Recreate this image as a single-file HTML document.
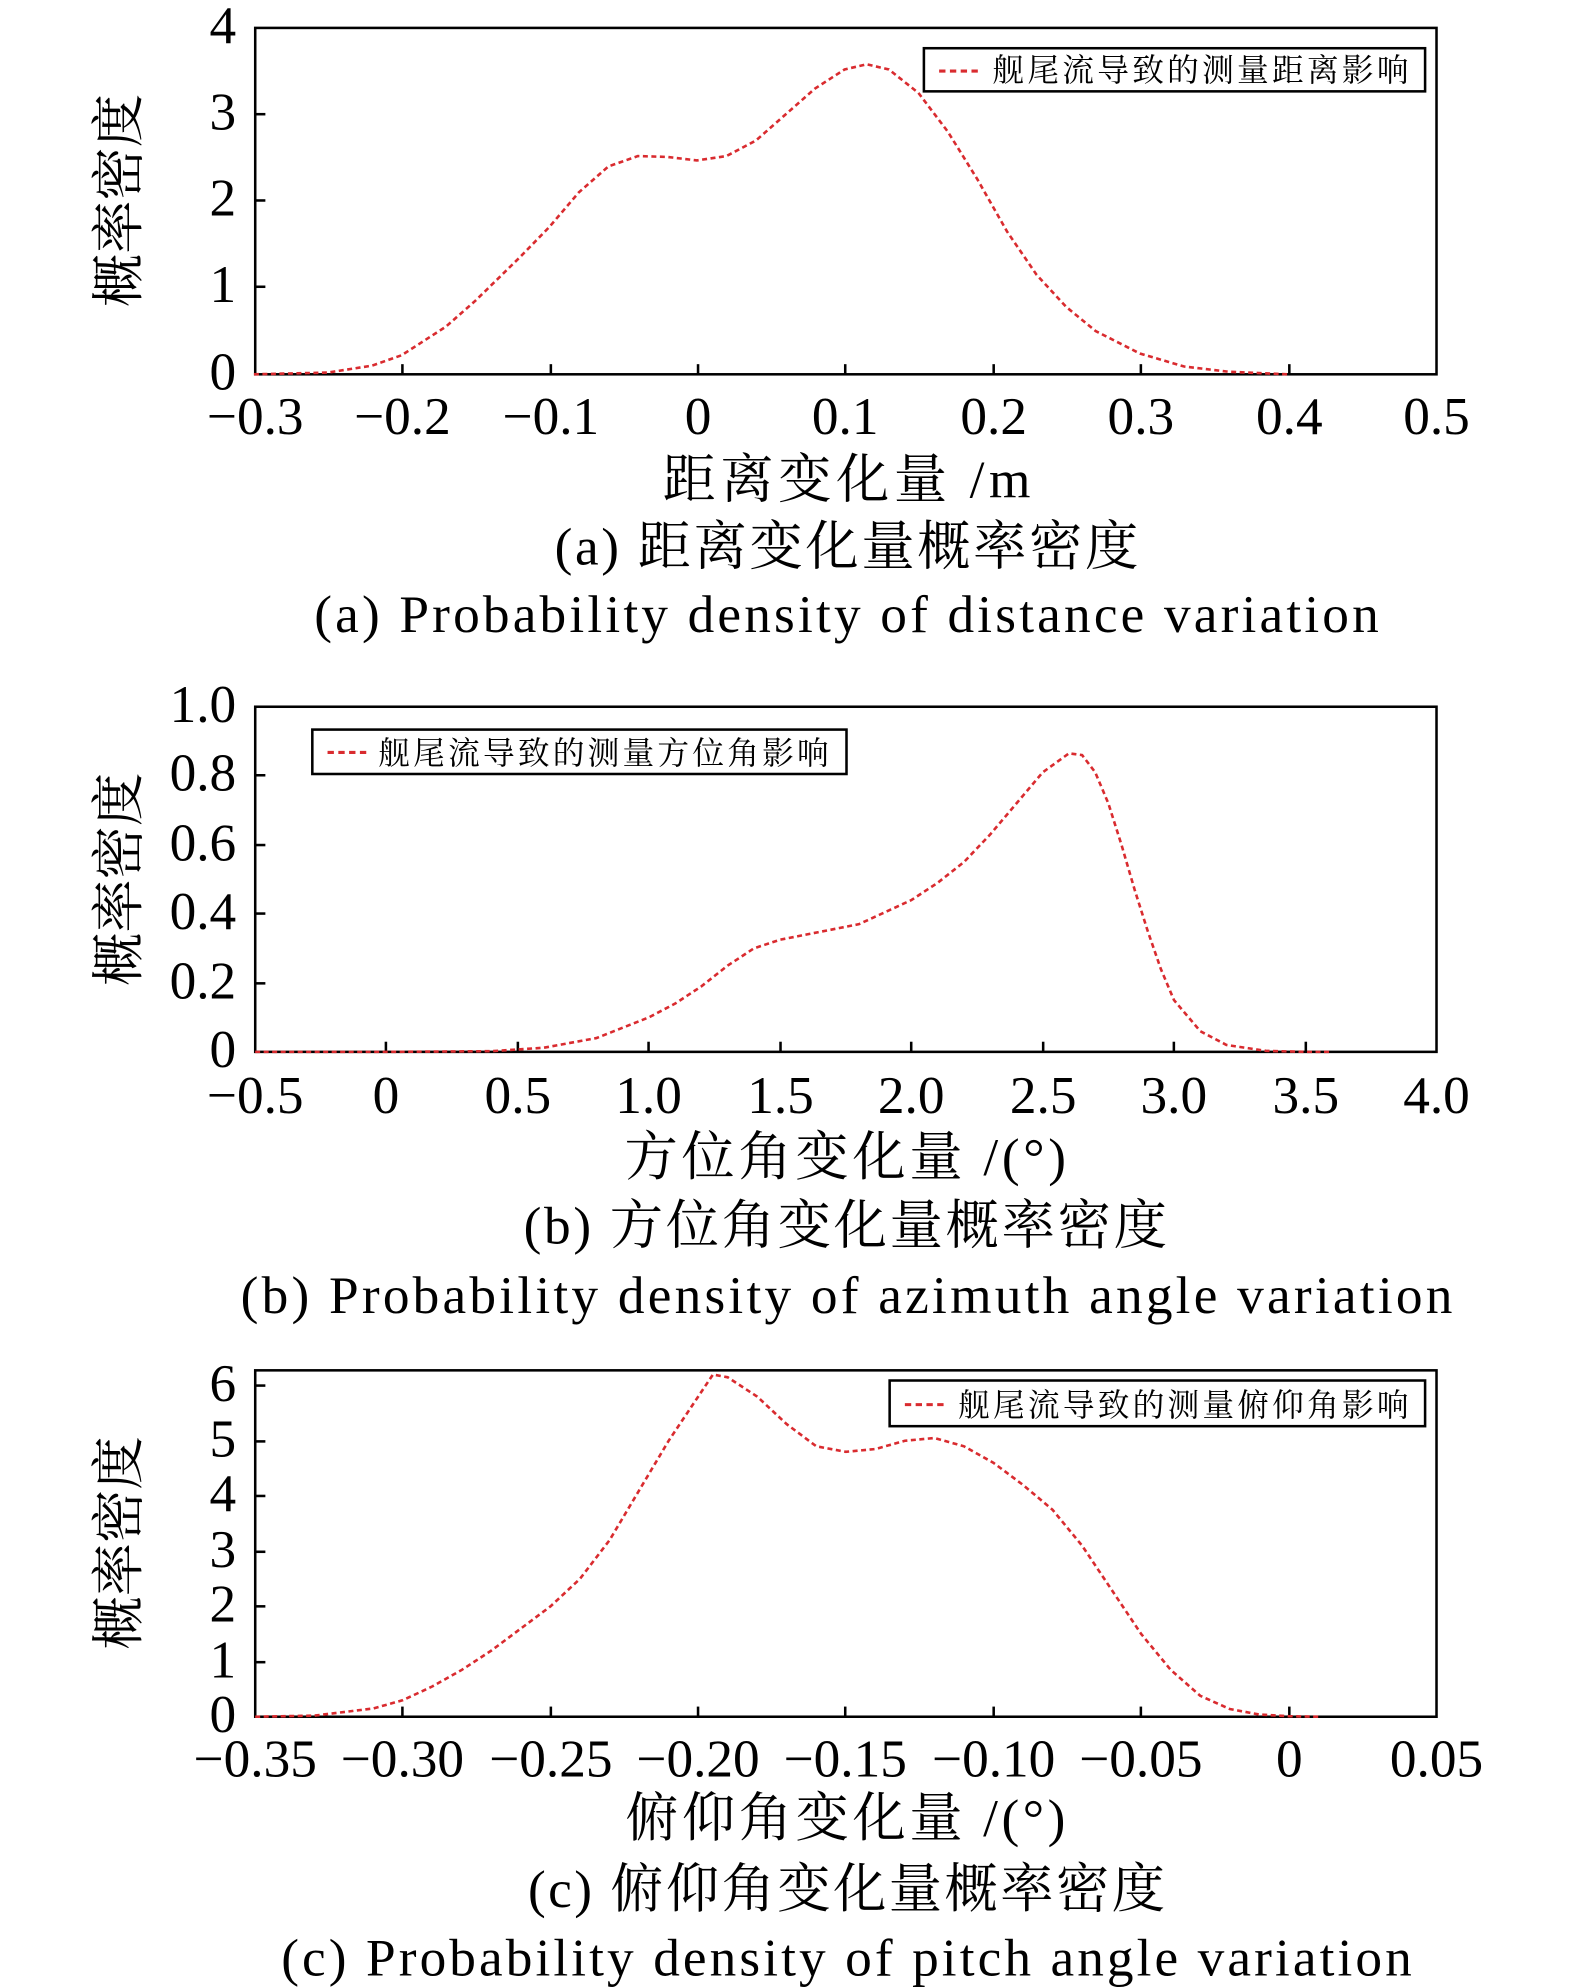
<!DOCTYPE html>
<html><head><meta charset="utf-8"><style>
html,body{margin:0;padding:0;background:#fff;}
svg{display:block;}
text{font-family:"Liberation Serif","Noto Serif CJK SC",serif;fill:#000;}
.t{font-size:42px;}
.c{font-size:42px;}
.lg{font-size:25px;font-family:"Liberation Serif","Noto Serif CJK SC",serif;}
.curve{fill:none;stroke:#d92b2f;stroke-width:2.6;stroke-dasharray:5,3.5;vector-effect:non-scaling-stroke;}
.ax{fill:none;stroke:#000;stroke-width:2;}
</style></head><body>
<svg width="1575" height="1987" viewBox="0 0 1241 1566" xmlns="http://www.w3.org/2000/svg">
<!-- Plot A -->
<rect class="ax" x="201" y="22" width="931" height="273"/>
<g stroke="#000" stroke-width="2">
<line x1="317" y1="295" x2="317" y2="287"/><line x1="434" y1="295" x2="434" y2="287"/><line x1="550" y1="295" x2="550" y2="287"/><line x1="666" y1="295" x2="666" y2="287"/><line x1="783" y1="295" x2="783" y2="287"/><line x1="899" y1="295" x2="899" y2="287"/><line x1="1016" y1="295" x2="1016" y2="287"/>
<line x1="201" y1="226" x2="209" y2="226"/><line x1="201" y1="158" x2="209" y2="158"/><line x1="201" y1="90" x2="209" y2="90"/>
</g>
<g class="t" text-anchor="end"><text x="186" y="307">0</text><text x="186" y="238">1</text><text x="186" y="170">2</text><text x="186" y="102">3</text><text x="186" y="34">4</text></g>
<g class="t" text-anchor="middle"><text x="201" y="342">−0.3</text><text x="317" y="342">−0.2</text><text x="434" y="342">−0.1</text><text x="550" y="342">0</text><text x="666" y="342">0.1</text><text x="783" y="342">0.2</text><text x="899" y="342">0.3</text><text x="1016" y="342">0.4</text><text x="1132" y="342">0.5</text></g>
<text class="c" x="108" y="158" text-anchor="middle" transform="rotate(-90 108 158)">概率密度</text>
<text class="c" x="667" y="392" text-anchor="middle" textLength="290" lengthAdjust="spacing">距离变化量 /m</text>
<text class="c" x="667" y="445" text-anchor="middle" textLength="460" lengthAdjust="spacing">(a) 距离变化量概率密度</text>
<text class="c" x="667" y="498" text-anchor="middle" textLength="839" lengthAdjust="spacing">(a) Probability density of distance variation</text>
<g transform="translate(549.1,295) scale(1163.75,-68.25)"><polyline class="curve" points="-0.3,0 -0.25,0.02 -0.22,0.1 -0.2,0.22 -0.17,0.55 -0.15,0.85 -0.12,1.35 -0.1,1.7 -0.08,2.1 -0.06,2.4 -0.04,2.52 -0.02,2.51 0,2.47 0.02,2.52 0.04,2.7 0.06,3.0 0.08,3.3 0.1,3.52 0.115,3.58 0.13,3.52 0.15,3.25 0.17,2.8 0.19,2.25 0.21,1.65 0.23,1.15 0.25,0.78 0.27,0.5 0.3,0.24 0.33,0.09 0.36,0.03 0.4,0"/></g>
<rect x="728" y="38" width="395" height="34" fill="#fff" stroke="#000" stroke-width="2"/>
<line x1="740" y1="56" x2="772" y2="56" stroke="#d92b2f" stroke-width="2.4" stroke-dasharray="5,3.5"/>
<text class="lg" x="782" y="64" textLength="328" lengthAdjust="spacing">舰尾流导致的测量距离影响</text>

<!-- Plot B -->
<rect class="ax" x="201" y="557" width="931" height="272"/>
<g stroke="#000" stroke-width="2">
<line x1="304" y1="829" x2="304" y2="821"/><line x1="408" y1="829" x2="408" y2="821"/><line x1="511" y1="829" x2="511" y2="821"/><line x1="615" y1="829" x2="615" y2="821"/><line x1="718" y1="829" x2="718" y2="821"/><line x1="822" y1="829" x2="822" y2="821"/><line x1="925" y1="829" x2="925" y2="821"/><line x1="1029" y1="829" x2="1029" y2="821"/>
<line x1="201" y1="775" x2="209" y2="775"/><line x1="201" y1="720" x2="209" y2="720"/><line x1="201" y1="666" x2="209" y2="666"/><line x1="201" y1="611" x2="209" y2="611"/>
</g>
<g class="t" text-anchor="end"><text x="186" y="841">0</text><text x="186" y="787">0.2</text><text x="186" y="732">0.4</text><text x="186" y="678">0.6</text><text x="186" y="623">0.8</text><text x="186" y="569">1.0</text></g>
<g class="t" text-anchor="middle"><text x="201" y="877">−0.5</text><text x="304" y="877">0</text><text x="408" y="877">0.5</text><text x="511" y="877">1.0</text><text x="615" y="877">1.5</text><text x="718" y="877">2.0</text><text x="822" y="877">2.5</text><text x="925" y="877">3.0</text><text x="1029" y="877">3.5</text><text x="1132" y="877">4.0</text></g>
<text class="c" x="108" y="693" text-anchor="middle" transform="rotate(-90 108 693)">概率密度</text>
<text class="c" x="666" y="926" text-anchor="middle" textLength="348" lengthAdjust="spacing">方位角变化量 /(°)</text>
<text class="c" x="666" y="980" text-anchor="middle" textLength="507" lengthAdjust="spacing">(b) 方位角变化量概率密度</text>
<text class="c" x="667" y="1035" text-anchor="middle" textLength="955" lengthAdjust="spacing">(b) Probability density of azimuth angle variation</text>
<g transform="translate(304.4,829) scale(206.9,-272)"><polyline class="curve" points="-0.5,0 0,0 0.4,0.002 0.6,0.012 0.8,0.04 1.0,0.1 1.1,0.14 1.2,0.19 1.3,0.25 1.4,0.3 1.5,0.325 1.6,0.34 1.8,0.37 2.0,0.44 2.1,0.49 2.2,0.55 2.3,0.63 2.4,0.72 2.5,0.81 2.6,0.865 2.65,0.86 2.7,0.81 2.75,0.72 2.8,0.6 2.85,0.47 2.9,0.35 2.95,0.24 3.0,0.15 3.1,0.06 3.2,0.02 3.35,0.003 3.5,0 3.6,0"/></g>
<rect x="246" y="575" width="421" height="35" fill="#fff" stroke="#000" stroke-width="2"/>
<line x1="258" y1="593" x2="290" y2="593" stroke="#d92b2f" stroke-width="2.4" stroke-dasharray="5,3.5"/>
<text class="lg" x="298" y="602" textLength="355" lengthAdjust="spacing">舰尾流导致的测量方位角影响</text>

<!-- Plot C -->
<rect class="ax" x="201" y="1080" width="931" height="273"/>
<g stroke="#000" stroke-width="2">
<line x1="317" y1="1353" x2="317" y2="1345"/><line x1="434" y1="1353" x2="434" y2="1345"/><line x1="550" y1="1353" x2="550" y2="1345"/><line x1="666" y1="1353" x2="666" y2="1345"/><line x1="783" y1="1353" x2="783" y2="1345"/><line x1="899" y1="1353" x2="899" y2="1345"/><line x1="1016" y1="1353" x2="1016" y2="1345"/>
<line x1="201" y1="1310" x2="209" y2="1310"/><line x1="201" y1="1266" x2="209" y2="1266"/><line x1="201" y1="1223" x2="209" y2="1223"/><line x1="201" y1="1179" x2="209" y2="1179"/><line x1="201" y1="1136" x2="209" y2="1136"/><line x1="201" y1="1092" x2="209" y2="1092"/>
</g>
<g class="t" text-anchor="end"><text x="186" y="1365">0</text><text x="186" y="1322">1</text><text x="186" y="1278">2</text><text x="186" y="1235">3</text><text x="186" y="1191">4</text><text x="186" y="1148">5</text><text x="186" y="1104">6</text></g>
<g class="t" text-anchor="middle"><text x="201" y="1400">−0.35</text><text x="317" y="1400">−0.30</text><text x="434" y="1400">−0.25</text><text x="550" y="1400">−0.20</text><text x="666" y="1400">−0.15</text><text x="783" y="1400">−0.10</text><text x="899" y="1400">−0.05</text><text x="1016" y="1400">0</text><text x="1132" y="1400">0.05</text></g>
<text class="c" x="108" y="1216" text-anchor="middle" transform="rotate(-90 108 1216)">概率密度</text>
<text class="c" x="666" y="1447" text-anchor="middle" textLength="347" lengthAdjust="spacing">俯仰角变化量 /(°)</text>
<text class="c" x="667" y="1503" text-anchor="middle" textLength="502" lengthAdjust="spacing">(c) 俯仰角变化量概率密度</text>
<text class="c" x="667" y="1557" text-anchor="middle" textLength="891" lengthAdjust="spacing">(c) Probability density of pitch angle variation</text>
<g transform="translate(1015.6,1353) scale(2327.5,-43.5)"><polyline class="curve" points="-0.35,0 -0.33,0.02 -0.31,0.15 -0.3,0.3 -0.29,0.55 -0.28,0.85 -0.27,1.2 -0.26,1.6 -0.25,2.0 -0.24,2.5 -0.23,3.2 -0.22,4.1 -0.21,5.0 -0.2,5.8 -0.195,6.2 -0.19,6.15 -0.18,5.8 -0.17,5.3 -0.16,4.9 -0.15,4.8 -0.14,4.85 -0.13,5.0 -0.12,5.05 -0.11,4.9 -0.1,4.6 -0.09,4.2 -0.08,3.75 -0.07,3.1 -0.06,2.3 -0.05,1.5 -0.04,0.85 -0.03,0.38 -0.02,0.14 -0.01,0.04 0,0.01 0.01,0"/></g>
<rect x="701" y="1088" width="422" height="36" fill="#fff" stroke="#000" stroke-width="2"/>
<line x1="713" y1="1107" x2="745" y2="1107" stroke="#d92b2f" stroke-width="2.4" stroke-dasharray="5,3.5"/>
<text class="lg" x="755" y="1116" textLength="355" lengthAdjust="spacing">舰尾流导致的测量俯仰角影响</text>
</svg>
</body></html>
